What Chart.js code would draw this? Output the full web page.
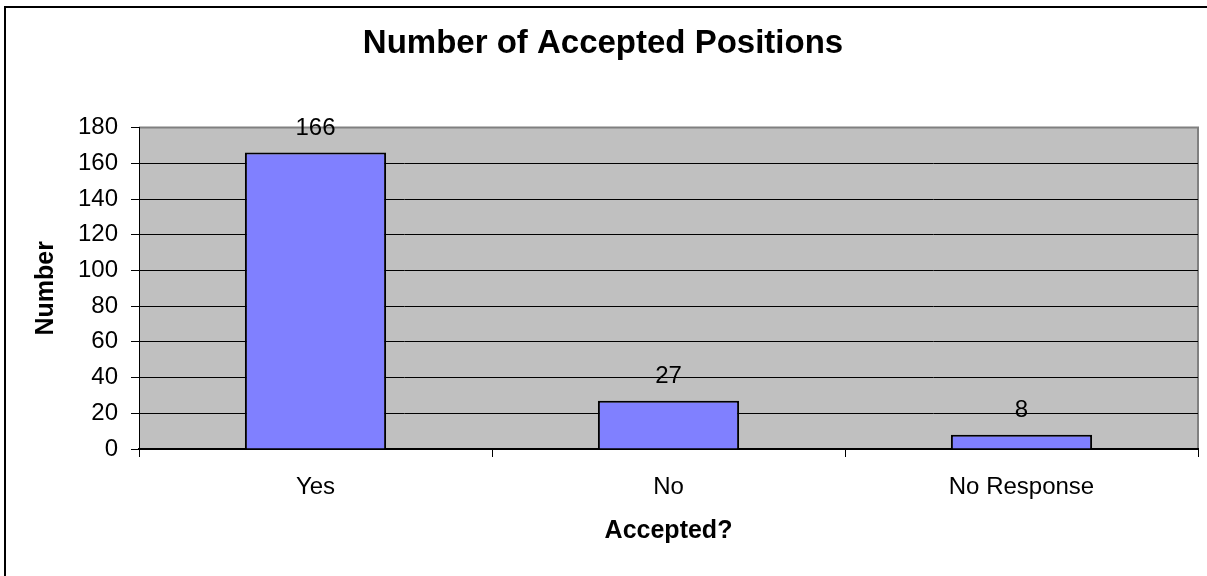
<!DOCTYPE html>
<html>
<head>
<meta charset="utf-8">
<script src="https://cdn.jsdelivr.net/npm/chart.js@4/dist/chart.umd.min.js"></script>
<style>
  body { margin: 0; background: #fff; }
  #chart { display: block; }
</style>
</head>
<body>
<canvas id="chart" width="1207" height="576"></canvas>
<script>
const LABELS = ['Yes', 'No', 'No Response']
const ACCEPTED = [166, 27, 8]
const Y_MIN = 0
const Y_MAX = 180
const Y_STEP = 20
const FONT = 'Liberation Sans, Arial, sans-serif'

// grey plot area + grey top/right edge, like the old excel charts
const plotBackground = {
    id: 'plotBackground',
    beforeDraw(chart) {
        const { ctx, chartArea: a } = chart
        ctx.save()
        ctx.fillStyle = '#C0C0C0'
        ctx.fillRect(a.left, a.top, a.right - a.left, a.bottom - a.top)
        ctx.strokeStyle = '#808080'
        ctx.lineWidth = 2
        ctx.beginPath()
        ctx.moveTo(a.left, a.top)
        ctx.lineTo(a.right, a.top)
        ctx.lineTo(a.right, a.bottom)
        ctx.stroke()
        ctx.restore()
    },
    afterDraw(chart) {
        // outer frame, only left and top are visible in the picture
        const ctx = chart.ctx
        ctx.save()
        ctx.fillStyle = '#000'
        ctx.fillRect(4, 6, 2, chart.height)
        ctx.fillRect(4, 6, chart.width, 2)
        ctx.restore()
    }
}

// value over each bar
const barValues = {
    id: 'barValues',
    afterDatasetsDraw(chart) {
        const ctx = chart.ctx
        ctx.save()
        ctx.font = '24px ' + FONT
        ctx.fillStyle = '#000'
        ctx.textAlign = 'center'
        ctx.textBaseline = 'alphabetic'
        chart.getDatasetMeta(0).data.forEach((bar, i) => {
            ctx.fillText(String(ACCEPTED[i]), bar.x, bar.y - 18)
        })
        ctx.restore()
    }
}

new Chart(document.getElementById('chart'), {
    type: 'bar',
    data: {
        labels: LABELS,
        datasets: [{
            label: 'Number',
            data: ACCEPTED,
            backgroundColor: '#8080FF',
            borderColor: '#000',
            borderWidth: 2,
            barPercentage: 0.4,
            categoryPercentage: 1
        }]
    },
    options: {
        responsive: false,
        animation: false,
        layout: { padding: { left: 8, right: 9, top: 0, bottom: 0 } },
        plugins: {
            legend: { display: false },
            tooltip: { enabled: false },
            title: {
                display: true,
                text: 'Number of Accepted Positions',
                color: '#000',
                font: { family: FONT, size: 33, weight: 'bold' },
                padding: { top: 24, bottom: 64 }
            }
        },
        scales: {
            x: {
                afterFit(scale) { scale.height = 127 },
                border: { color: '#000', width: 2 },
                grid: { drawOnChartArea: false, color: '#000', tickLength: 8, offset: true },
                ticks: { color: '#000', padding: 16, font: { family: FONT, size: 24 } },
                title: {
                    display: true,
                    text: 'Accepted?',
                    color: '#000',
                    font: { family: FONT, size: 25, weight: 'bold' },
                    padding: { top: 0, bottom: 30 }
                }
            },
            y: {
                min: Y_MIN,
                max: Y_MAX,
                afterFit(scale) { scale.width = 131 },
                border: { color: '#000', width: 1 },
                grid: {
                    color: ctx => ctx.tick && ctx.tick.value === Y_MAX ? '#808080' : '#000',
                    tickColor: '#000',
                    tickLength: 8,
                    lineWidth: 1
                },
                ticks: { stepSize: Y_STEP, color: '#000', padding: 13, font: { family: FONT, size: 24 } },
                title: {
                    display: true,
                    text: 'Number',
                    color: '#000',
                    font: { family: FONT, size: 25, weight: 'bold' },
                    padding: { top: 23, bottom: 0 }
                }
            }
        }
    },
    plugins: [plotBackground, barValues]
})
</script>
</body>
</html>
